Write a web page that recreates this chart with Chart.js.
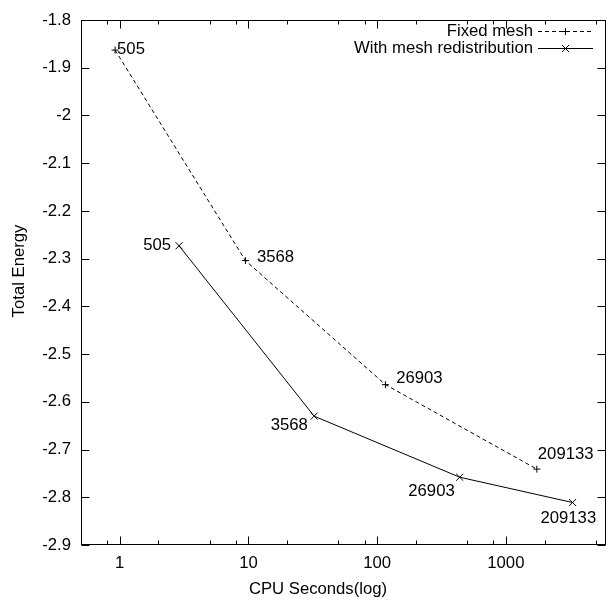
<!DOCTYPE html>
<html><head><meta charset="utf-8">
<script src="https://cdn.jsdelivr.net/npm/chart.js@4.4.0/dist/chart.umd.min.js"></script>
<style>html,body{margin:0;padding:0;background:#fff}canvas{display:block}</style>
</head><body>
<canvas id="c" width="614" height="601"></canvas>
<script>
// ---- data ----
const fixedCpu      = [0.92, 9.47, 116, 1741];
const fixedEnergy   = [-1.863, -2.304, -2.564, -2.741];
const redistCpu     = [2.89, 32.4, 438, 3300];
const redistEnergy  = [-2.273, -2.630, -2.758, -2.811];
const meshSizes     = ['505', '3568', '26903', '209133'];
const seriesNames   = ['Fixed mesh', 'With mesh redistribution'];
const xMajorTicks   = [1, 10, 100, 1000];
const xMinorTicks   = [0.8, 2, 5, 8, 20, 50, 80, 200, 500, 800, 2000, 5000];
const yTicks        = [-2.9, -2.8, -2.7, -2.6, -2.5, -2.4, -2.3, -2.2, -2.1, -2, -1.9, -1.8];
const xTitle        = 'CPU Seconds(log)';
const yTitle        = 'Total Energy';

// ---- label placement (pixels relative to the point) ----
const fixedLabelOffsets  = [[2, -1], [11.6, -2.7], [10.7, -6.6], [1, -14.3]];
const redistLabelOffsets = [[-8, 0], [-6.3, 9], [-5, 14], [23.6, 16]];

const FONT = '"Liberation Sans", Arial, Helvetica, sans-serif';
const FSIZE = 16.7;
Chart.defaults.font.family = FONT;
Chart.defaults.font.size = FSIZE;
Chart.defaults.color = '#000';

function drawPlus(ctx, x, y, r) {
  ctx.beginPath(); ctx.moveTo(x - r, y); ctx.lineTo(x + r, y);
  ctx.moveTo(x, y - r); ctx.lineTo(x, y + r); ctx.stroke();
}
function drawX(ctx, x, y, r) {
  ctx.beginPath(); ctx.moveTo(x - r, y - r); ctx.lineTo(x + r, y + r);
  ctx.moveTo(x - r, y + r); ctx.lineTo(x + r, y - r); ctx.stroke();
}

const overlay = {
  id: 'overlay',
  afterDraw(chart) {
    const ctx = chart.ctx, xs = chart.scales.x, ys = chart.scales.y, a = chart.chartArea;
    ctx.save();
    ctx.strokeStyle = '#000'; ctx.fillStyle = '#000'; ctx.lineWidth = 1; ctx.setLineDash([]);
    const L = Math.round(a.left) + 0.5, R = Math.round(a.right) - 0.5;
    const T = Math.round(a.top) + 0.5, B = Math.round(a.bottom) - 0.5;
    ctx.strokeRect(L, T, R - L, B - T);
    ctx.beginPath();
    yTicks.forEach(v => {
      const y = Math.round(ys.getPixelForValue(v)) + 0.5;
      ctx.moveTo(L, y); ctx.lineTo(L + 8, y);
      ctx.moveTo(R, y); ctx.lineTo(R - 8, y);
    });
    xMajorTicks.forEach(v => {
      const x = Math.round(xs.getPixelForValue(v)) + 0.5;
      ctx.moveTo(x, B); ctx.lineTo(x, B - 8);
      ctx.moveTo(x, T); ctx.lineTo(x, T + 8);
    });
    xMinorTicks.forEach(v => {
      const x = Math.round(xs.getPixelForValue(v)) + 0.5;
      ctx.moveTo(x, B); ctx.lineTo(x, B - 4);
      ctx.moveTo(x, T); ctx.lineTo(x, T + 4);
    });
    ctx.stroke();

    // point labels
    ctx.font = FSIZE + 'px ' + FONT;
    ctx.textBaseline = 'middle';
    const m0 = chart.getDatasetMeta(0).data, m1 = chart.getDatasetMeta(1).data;
    ctx.textAlign = 'left';
    m0.forEach((p, i) => ctx.fillText(meshSizes[i], p.x + fixedLabelOffsets[i][0], p.y + fixedLabelOffsets[i][1]));
    ctx.textAlign = 'right';
    m1.forEach((p, i) => ctx.fillText(meshSizes[i], p.x + redistLabelOffsets[i][0], p.y + redistLabelOffsets[i][1]));

    // legend
    const lx = 533, sx0 = 538, sx1 = 593, ly = [31, 48];
    ctx.fillText(seriesNames[0], lx, ly[0]);
    ctx.fillText(seriesNames[1], lx, ly[1]);
    ctx.beginPath(); ctx.setLineDash([4, 3]);
    ctx.moveTo(sx0, ly[0] + 0.5); ctx.lineTo(sx1, ly[0] + 0.5); ctx.stroke();
    ctx.setLineDash([]);
    drawPlus(ctx, (sx0 + sx1) / 2, ly[0] + 0.5, 3.5);
    ctx.beginPath(); ctx.moveTo(sx0, ly[1] + 0.5); ctx.lineTo(sx1, ly[1] + 0.5); ctx.stroke();
    drawX(ctx, (sx0 + sx1) / 2, ly[1] + 0.5, 3.5);

    // axis titles
    ctx.textAlign = 'center';
    ctx.fillText(xTitle, 318, 589);
    ctx.translate(19, 271); ctx.rotate(-Math.PI / 2);
    ctx.fillText(yTitle, 0, 0);
    ctx.restore();
  }
};

new Chart(document.getElementById('c'), {
  type: 'line',
  data: {
    datasets: [
      {
        label: seriesNames[0],
        data: fixedCpu.map((x, i) => ({x, y: fixedEnergy[i]})),
        borderColor: '#000', backgroundColor: '#000', borderWidth: 1,
        borderDash: [4, 3], pointStyle: 'cross', pointRadius: 3.5,
        pointBorderWidth: 1, tension: 0, fill: false
      },
      {
        label: seriesNames[1],
        data: redistCpu.map((x, i) => ({x, y: redistEnergy[i]})),
        borderColor: '#000', backgroundColor: '#000', borderWidth: 1,
        pointStyle: 'crossRot', pointRadius: 5,
        pointBorderWidth: 1, tension: 0, fill: false
      }
    ]
  },
  options: {
    responsive: false, animation: false, clip: false,
    layout: { padding: { top: 15, right: 3, left: 0, bottom: 0 } },
    plugins: { legend: { display: false }, tooltip: { enabled: false } },
    scales: {
      x: {
        type: 'logarithmic', min: 0.5, max: 6000,
        grid: { display: false, drawTicks: false }, border: { display: false },
        ticks: {
          autoSkip: false, maxRotation: 0, padding: 8,
          callback: v => { const m = xMajorTicks.find(t => Math.abs(t - v) < 1e-6 * t); return m ? String(m) : ''; }
        },
        afterFit: s => { s.height = 56; }
      },
      y: {
        type: 'linear', min: -2.9, max: -1.8,
        grid: { display: false, drawTicks: false }, border: { display: false },
        ticks: { stepSize: 0.1, padding: 10, callback: v => String(Math.round(v * 10) / 10) },
        afterFit: s => { s.width = 81; }
      }
    }
  },
  plugins: [overlay]
});
</script>
</body></html>
